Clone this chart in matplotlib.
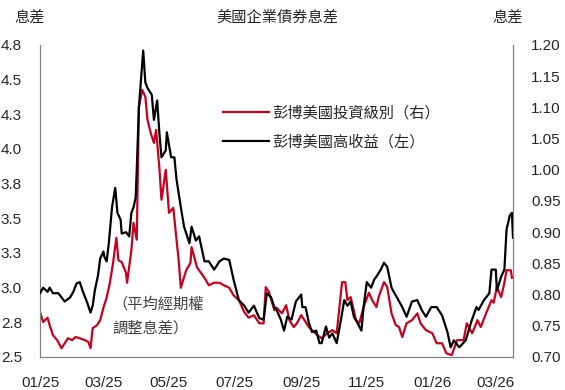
import matplotlib
matplotlib.use("Agg")
import matplotlib.pyplot as plt
import matplotlib.dates as mdates
from matplotlib.lines import Line2D
import numpy as np
import pandas as pd

plt.rcParams['font.family'] = ['Liberation Sans', 'Noto Sans CJK TC', 'DejaVu Sans']

start_date = "2025-01-01"

# High yield OAS (left axis) : days since start, spread
hy_day = [0, 3, 7, 9, 12, 17, 20, 23, 28, 31, 34, 37, 40, 44, 47, 49, 51, 54, 56, 59,
          60, 62, 64, 67, 70, 72, 75, 76, 80, 83, 85, 87, 89, 90, 92, 94, 96, 98, 100, 104,
          106, 109, 111, 113, 117, 118, 122, 125, 127, 131, 134, 139, 141, 145, 148, 153, 157, 162, 167, 171,
          176, 180, 185, 190, 194, 199, 204, 208, 211, 215, 218, 220, 224, 227, 230, 234, 238, 243, 244, 247,
          250, 253, 257, 260, 262, 266, 269, 272, 276, 280, 283, 286, 289, 292, 295, 299, 301, 304, 308, 311,
          313, 317, 320, 323, 327, 329, 332, 337, 341, 346, 351, 355, 359, 364, 369, 374, 379, 382, 385, 390,
          396, 401, 406, 408, 413, 418, 420, 424, 425, 429, 432, 434, 437, 439, 440]
hy_val = [2.96, 3.00, 2.97, 3.00, 2.96, 2.96, 2.93, 2.90, 2.93, 2.97, 3.03, 3.04, 2.97, 2.89, 2.82, 2.87, 2.98, 3.09, 3.21, 3.26,
          3.22, 3.19, 3.32, 3.58, 3.72, 3.54, 3.49, 3.39, 3.40, 3.37, 3.54, 3.58, 3.65, 3.85, 4.30, 4.50, 4.71, 4.48, 4.44, 4.39,
          4.21, 4.35, 4.12, 3.94, 3.99, 4.12, 3.94, 3.94, 3.78, 3.58, 3.44, 3.32, 3.44, 3.34, 3.37, 3.19, 3.19, 3.13, 3.19, 3.21,
          3.20, 3.06, 2.91, 2.87, 2.82, 2.87, 2.78, 2.77, 2.96, 2.93, 2.86, 2.84, 2.77, 2.69, 2.79, 2.77, 2.90, 2.95, 2.86, 2.86,
          2.75, 2.68, 2.69, 2.60, 2.60, 2.72, 2.64, 2.67, 2.60, 2.77, 2.91, 2.87, 2.90, 2.79, 2.75, 2.69, 2.86, 3.04, 3.00, 3.06,
          3.08, 3.13, 3.18, 3.15, 3.00, 2.97, 2.93, 2.86, 2.79, 2.90, 2.91, 2.84, 2.79, 2.86, 2.86, 2.80, 2.68, 2.57, 2.62, 2.57,
          2.62, 2.75, 2.86, 2.84, 2.91, 2.96, 3.13, 3.13, 2.98, 3.08, 3.13, 3.42, 3.52, 3.54, 3.36]

# Investment grade OAS (right axis)
ig_day = [0, 3, 7, 9, 12, 16, 20, 23, 26, 30, 33, 37, 42, 45, 47, 49, 53, 56, 59, 62,
          65, 68, 71, 73, 76, 80, 81, 85, 87, 90, 92, 95, 98, 100, 103, 106, 108, 111, 113, 117,
          120, 124, 127, 129, 131, 136, 140, 141, 146, 148, 153, 157, 162, 167, 171, 176, 180, 185, 190, 194,
          199, 204, 208, 210, 213, 218, 220, 225, 229, 232, 236, 239, 243, 246, 250, 253, 258, 262, 267, 272,
          276, 281, 284, 286, 289, 294, 297, 301, 306, 309, 313, 315, 320, 323, 327, 331, 334, 337, 341, 346,
          351, 354, 359, 365, 369, 374, 378, 383, 388, 394, 397, 402, 407, 410, 415, 420, 422, 425, 429, 432,
          434, 438, 439]
ig_val = [0.772, 0.756, 0.763, 0.751, 0.735, 0.727, 0.714, 0.722, 0.730, 0.727, 0.732, 0.730, 0.727, 0.724, 0.714, 0.746, 0.751, 0.759, 0.779, 0.795,
          0.819, 0.851, 0.891, 0.855, 0.852, 0.835, 0.819, 0.871, 0.915, 0.888, 1.101, 1.128, 1.117, 1.080, 1.059, 1.043, 1.064, 1.004, 0.952, 1.000,
          0.931, 0.939, 0.888, 0.855, 0.811, 0.839, 0.851, 0.876, 0.844, 0.839, 0.827, 0.815, 0.819, 0.819, 0.815, 0.811, 0.799, 0.791, 0.772, 0.763,
          0.767, 0.754, 0.754, 0.812, 0.804, 0.775, 0.779, 0.770, 0.783, 0.759, 0.748, 0.754, 0.767, 0.759, 0.748, 0.743, 0.735, 0.730, 0.738, 0.743,
          0.738, 0.820, 0.820, 0.791, 0.796, 0.759, 0.754, 0.780, 0.803, 0.791, 0.780, 0.796, 0.820, 0.812, 0.770, 0.751, 0.748, 0.732, 0.754, 0.759,
          0.770, 0.754, 0.743, 0.738, 0.722, 0.722, 0.706, 0.703, 0.727, 0.727, 0.754, 0.738, 0.759, 0.748, 0.770, 0.791, 0.787, 0.812, 0.796, 0.819,
          0.839, 0.839, 0.827]

left_ticks = [2.5, 2.75, 3.0, 3.25, 3.5, 3.75, 4.0, 4.25, 4.5, 4.75]
left_labels = ["2.5", "2.8", "3.0", "3.3", "3.5", "3.8", "4.0", "4.3", "4.5", "4.8"]
right_ticks = [0.70, 0.75, 0.80, 0.85, 0.90, 0.95, 1.00, 1.05, 1.10, 1.15, 1.20]
x_tick_dates = ["2025-01-01", "2025-03-01", "2025-05-01", "2025-07-01", "2025-09-01",
                "2025-11-01", "2026-01-01", "2026-03-01"]
x_tick_labels = ["01/25", "03/25", "05/25", "07/25", "09/25", "11/25", "01/26", "03/26"]

legend_ig = "彭博美國投資級別（右）"
legend_hy = "彭博美國高收益（左）"
title = "美國企業債券息差"
unit = "息差"
note = "（平均經期權\n調整息差）"

base = pd.Timestamp(start_date)
hy_dates = [base + pd.Timedelta(days=d) for d in hy_day]
ig_dates = [base + pd.Timedelta(days=d) for d in ig_day]

red = "#C8001E"
txt = "#262626"
spine_c = "#808080"

fig = plt.figure(figsize=(5.65, 3.9), dpi=100)
ax = fig.add_axes([40/565, 1-357/390, (513-40)/565, (357-45)/390])
ax2 = ax.twinx()

ax.plot(hy_dates, hy_val, color="black", lw=1.6, zorder=3)
ax2.plot(ig_dates, ig_val, color=red, lw=1.6, zorder=2)
ax.set_zorder(ax2.get_zorder() + 1)
ax.patch.set_visible(False)

ax.set_ylim(2.5, 4.75)
ax2.set_ylim(0.70, 1.20)
ax.set_xlim(base, base + pd.Timedelta(days=440))

ax.set_yticks(left_ticks)
ax.set_yticklabels(left_labels)
ax2.set_yticks(right_ticks)
ax2.set_yticklabels([f"{v:.2f}" for v in right_ticks])
ax.set_xticks([pd.Timestamp(d) for d in x_tick_dates])
ax.set_xticklabels(x_tick_labels)

for a in (ax, ax2):
    a.tick_params(axis='both', length=0, labelsize=11, colors=txt)
    for s in a.spines.values():
        s.set_color(spine_c)
        s.set_linewidth(0.8)
    a.spines['top'].set_visible(False)
ax.tick_params(axis='y', pad=13)
ax2.tick_params(axis='y', pad=13)
ax.tick_params(axis='x', pad=14)

fig.text(30/565, 1-17/390, unit, ha='center', va='center', fontsize=11, color=txt,
         family=['Noto Sans CJK TC'])
fig.text(277/565, 1-17/390, title, ha='center', va='center', fontsize=11, color=txt,
         family=['Noto Sans CJK TC'])
fig.text(508/565, 1-17/390, unit, ha='center', va='center', fontsize=11, color=txt,
         family=['Noto Sans CJK TC'])

fig.text(112/565, 1-316/390, note, ha='left', va='center', fontsize=11, color="#404040",
         family=['Noto Sans CJK TC'], linespacing=1.6)

handles = [Line2D([], [], color=red, lw=1.6), Line2D([], [], color="black", lw=1.6)]
leg = fig.legend(handles, [legend_ig, legend_hy], loc='center left',
                 bbox_to_anchor=(223/565, 1-127.5/390), frameon=False,
                 borderpad=0, borderaxespad=0, handlelength=3.0, handletextpad=0.2,
                 labelspacing=0.75, prop={'family': ['Noto Sans CJK TC'], 'size': 11})
for t in leg.get_texts():
    t.set_color(txt)

fig.savefig("out.png", dpi=100)
